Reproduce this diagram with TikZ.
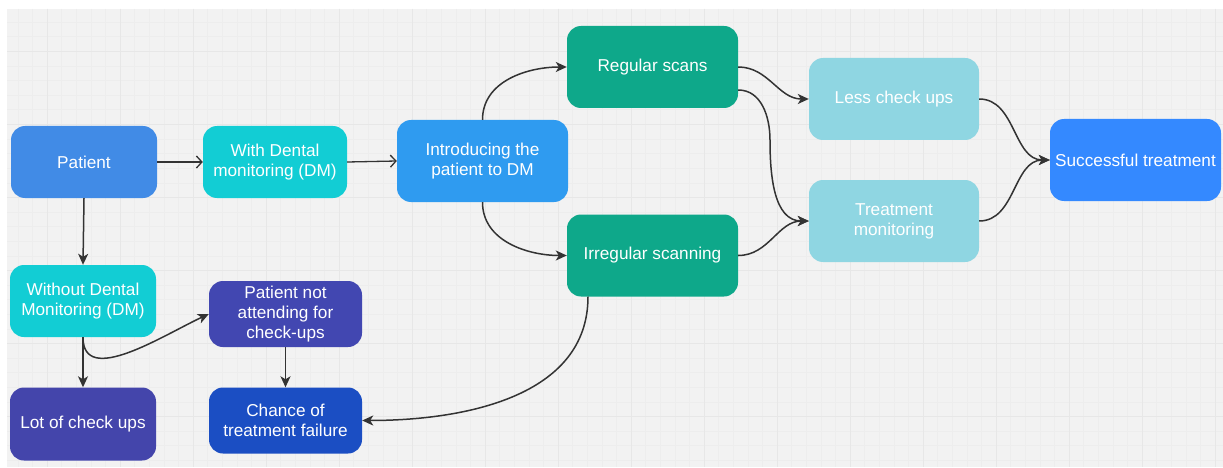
\documentclass[tikz,border=0pt]{standalone}
\usepackage{fontspec}
\setmainfont{Liberation Sans}
\usetikzlibrary{arrows.meta,calc}
\definecolor{bgC}{HTML}{F2F2F2}
\definecolor{gridMinor}{HTML}{EDEDED}
\definecolor{gridMajor}{HTML}{E7E7E7}
\definecolor{lineC}{HTML}{333333}
\definecolor{cPat}{HTML}{418BE6}
\definecolor{cCyan}{HTML}{12CDD4}
\definecolor{cIntro}{HTML}{2F9BF0}
\definecolor{cGreen}{HTML}{0EA88A}
\definecolor{cLight}{HTML}{8FD6E2}
\definecolor{cSucc}{HTML}{3489FF}
\definecolor{cPna}{HTML}{4247B1}
\definecolor{cLot}{HTML}{4445AB}
\definecolor{cChance}{HTML}{1B4EC3}
\begin{document}
\begin{tikzpicture}[x=1pt,y=-1pt,
  box/.style={rectangle, rounded corners=14pt, text=white, align=center,
    font=\fontsize{17.2}{20}\selectfont, inner sep=0pt, draw=none},
  conn/.style={draw=lineC, line width=1.5pt, -{Stealth[length=11pt,width=10pt,inset=3pt]}},
  openconn/.style={draw=lineC, line width=1.3pt, -{Straight Barb[length=5.5pt,width=12pt]}}]
\useasboundingbox (0,0) rectangle (1223,468);
\fill[white] (0,0) rectangle (1223,468);
\fill[bgC] (7,9) rectangle (1223,467);
\begin{scope}
\clip (7,9) rectangle (1223,467);
\foreach \i in {0,...,84} {\draw[gridMinor, line width=0.6pt] ({3.2+14.6*\i},9) -- ++(0,458);}
\foreach \i in {0,...,32} {\draw[gridMinor, line width=0.6pt] (7,{7.6+14.6*\i}) -- ++(1216,0);}
\foreach \j in {0,...,16} {\draw[gridMajor, line width=0.8pt] ({47+73*\j},9) -- ++(0,458);}
\foreach \j in {0,...,6} {\draw[gridMajor, line width=0.8pt] (7,{51.4+73*\j}) -- ++(1216,0);}
\end{scope}

\node[box, fill=cPat, minimum width=146pt, minimum height=72pt] (pat) at (84,162) {Patient};
\node[box, fill=cCyan, minimum width=144pt, minimum height=72pt] (wdm) at (275,162) {With Dental\\monitoring (DM)};
\node[box, fill=cIntro, minimum width=171pt, minimum height=82pt] (intro) at (482.5,161) {Introducing the\\patient to DM};
\node[box, fill=cGreen, minimum width=171pt, minimum height=82pt] (reg) at (652.5,67) {Regular scans};
\node[box, fill=cGreen, minimum width=171pt, minimum height=82pt] (irr) at (652.5,255.5) {Irregular scanning};
\node[box, fill=cLight, minimum width=170pt, minimum height=82pt] (less) at (894,99) {Less check ups};
\node[box, fill=cLight, minimum width=170pt, minimum height=82pt] (tm) at (894,221) {Treatment\\monitoring};
\node[box, fill=cSucc, minimum width=171pt, minimum height=82pt] (succ) at (1135.5,160) {Successful treatment};
\node[box, fill=cCyan, minimum width=146pt, minimum height=72pt] (wo) at (83,301) {Without Dental\\Monitoring (DM)};
\node[box, fill=cPna, minimum width=153pt, minimum height=66pt] (pna) at (285.5,314) {Patient not\\attending for\\check-ups};
\node[box, fill=cLot, minimum width=146pt, minimum height=73pt] (lot) at (83,424) {Lot of check ups};
\node[box, fill=cChance, minimum width=153pt, minimum height=66pt] (chance) at (285.5,420.5) {Chance of\\treatment failure};

\draw[openconn] (pat.east) -- (wdm.west);
\draw[openconn] (wdm.east) -- (intro.west);
\draw[conn] (intro.north) to[out=90,in=180] (reg.west);
\draw[conn] (intro.south) to[out=-90,in=180] (irr.west);
\draw[conn] (reg.east) to[out=0,in=180] (less.west);
\draw[conn] ($(reg.east)+(0,23)$) to[out=0,in=90] (770,140) to[out=-90,in=180] (tm.west);
\draw[conn] (irr.east) to[out=0,in=180] (tm.west);
\draw[conn] (less.east) to[out=0,in=180] (succ.west);
\draw[conn] (tm.east) to[out=0,in=180] (succ.west);
\draw[conn] (pat.south) -- (wo.north);
\draw[conn] (wo.south) -- (lot.north);
\draw[conn] (wo.south) to[out=-90,in=205] (pna.west);
\draw[conn] (pna.south) -- (chance.north);
\draw[conn] ($(irr.south)+(-64.5,0)$) to[out=-90,in=0] (chance.east);
\end{tikzpicture}
\end{document}
